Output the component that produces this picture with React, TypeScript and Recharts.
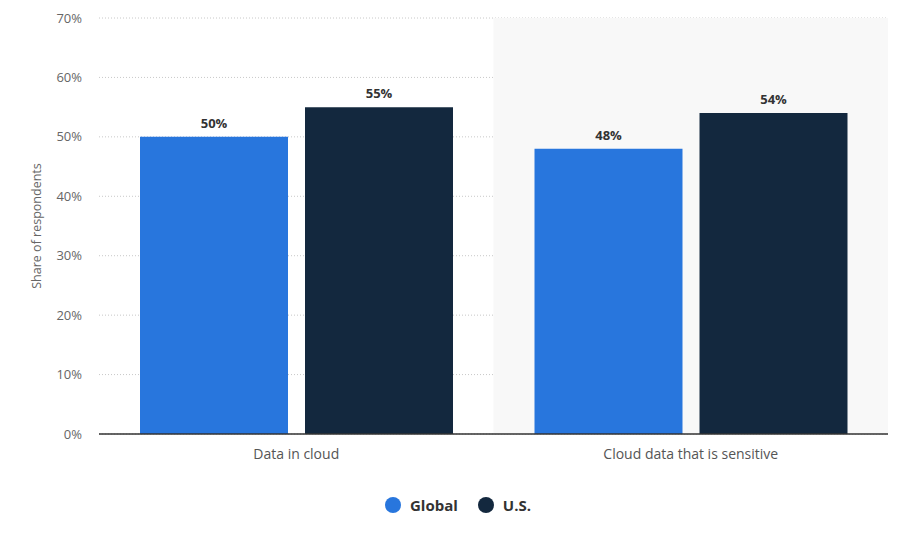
import { BarChart, Bar, XAxis, YAxis, CartesianGrid, Legend, LabelList, ReferenceArea } from 'recharts';

const categories = ['Data in cloud', 'Cloud data that is sensitive'];
const globalValues = [50, 48];
const usValues = [55, 54];
const yTicks = [0, 10, 20, 30, 40, 50, 60, 70];

const series = [
  { key: 'global', name: 'Global', color: '#2876dd' },
  { key: 'us', name: 'U.S.', color: '#13283e' },
];

const data = categories.map((name, i) => ({
  name,
  global: globalValues[i],
  us: usValues[i],
}));

const FONT = '"Open Sans", "DejaVu Sans", sans-serif';

const LegendContent = () => (
  <div style={{ display: 'flex', justifyContent: 'center', alignItems: 'center', height: 30, fontFamily: FONT, paddingLeft: 28 }}>
    {series.map((s) => (
      <div key={s.key} style={{ display: 'flex', alignItems: 'center', margin: '0 10px' }}>
        <span style={{ width: 16, height: 16, borderRadius: '50%', background: s.color, display: 'inline-block', marginRight: 9 }} />
        <span style={{ fontSize: 15, fontWeight: 700, color: '#333' }}>{s.name}</span>
      </div>
    ))}
  </div>
);

export default function App() {
  return (
    <div style={{ position: 'absolute', left: 0, top: 0, width: 900, height: 550, background: '#fff' }}>
      <BarChart
        width={900}
        height={550}
        data={data}
        margin={{ top: 18, right: 12, left: 0, bottom: 30 }}
        barCategoryGap={41}
        barGap={17}
        style={{ fontFamily: FONT }}
      >
        <ReferenceArea x1={categories[1]} x2={categories[1]} fill="#f8f8f8" fillOpacity={1} stroke="none" ifOverflow="visible" />
        <CartesianGrid vertical={false} stroke="#c8c8c8" strokeDasharray="1 2" />
        <XAxis
          dataKey="name"
          height={56}
          tickSize={0}
          tickMargin={15}
          axisLine={{ stroke: '#333', strokeWidth: 1.5 }}
          tick={{ fill: '#555', fontSize: 14 }}
        />
        <YAxis
          width={99}
          domain={[0, 70]}
          ticks={yTicks}
          tickFormatter={(v) => `${v}%`}
          axisLine={false}
          tickLine={false}
          tickSize={0}
          tickMargin={17}
          tick={{ fill: '#666', fontSize: 13 }}
          label={{ value: 'Share of respondents', angle: -90, position: 'insideLeft', offset: 37, style: { fill: '#666', fontSize: 12.5, textAnchor: 'middle' } }}
        />
        <Legend verticalAlign="bottom" height={30} content={<LegendContent />} />
        {series.map((s) => (
          <Bar key={s.key} dataKey={s.key} name={s.name} fill={s.color} isAnimationActive={false}>
            <LabelList
              dataKey={s.key}
              position="top"
              offset={9}
              formatter={(v: any) => `${v}%`}
              style={{ fill: '#333', fontSize: 13, fontWeight: 700 }}
            />
          </Bar>
        ))}
      </BarChart>
    </div>
  );
}
